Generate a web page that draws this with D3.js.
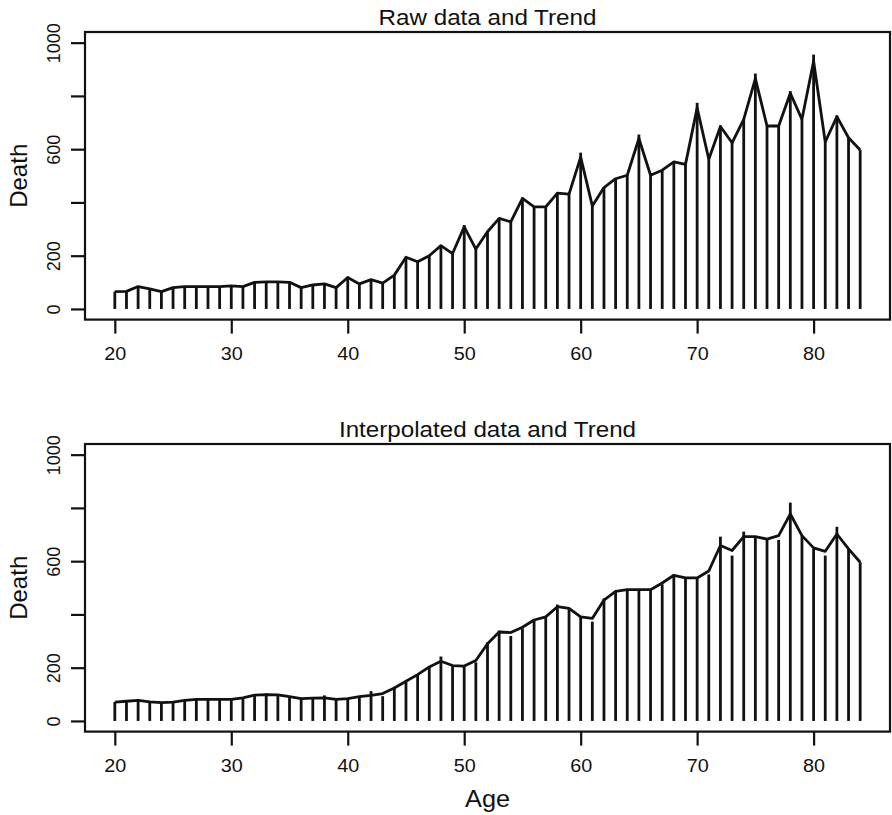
<!DOCTYPE html>
<html>
<head>
<meta charset="utf-8">
<script src="https://cdn.jsdelivr.net/npm/d3@7"></script>
<style>
  body { margin: 0; background: #fff; }
  text { font-family: "Liberation Sans", Arial, sans-serif; fill: #111; }
</style>
</head>
<body>
<div id="chart"></div>
<script>
// Data
const ages = [20,21,22,23,24,25,26,27,28,29,30,31,32,33,34,35,36,37,38,39,40,41,42,43,44,45,46,47,48,49,50,51,52,
              53,54,55,56,57,58,59,60,61,62,63,64,65,66,67,68,69,70,71,72,73,74,75,76,77,78,79,80,81,82,83,84];
const rawDeaths = [65,66,84,75,65,80,84,84,84,84,87,84,100,102,102,100,80,90,94,80,121,94,112,97,127,194,177,200,240,208,
                   315,225,290,340,327,418,383,383,437,431,587,387,456,489,502,655,502,521,552,543,774,562,689,624,712,
                   884,687,687,818,712,955,627,727,643,597];
const rawTrend = [65,66,84,75,65,80,84,84,84,84,87,84,100,102,102,100,80,90,94,80,118,94,110,97,127,194,177,200,238,208,
                  308,225,290,340,327,415,383,383,435,431,570,387,456,489,502,640,502,521,552,543,755,562,685,624,712,
                  865,687,687,810,712,930,627,722,643,597];
const interpDeaths = [71,71,81,75,68,68,75,81,81,81,81,87,99,103,99,91,84,87,96,81,84,91,112,93,128,149,174,203,242,206,
                      206,220,295,339,319,348,382,389,437,419,391,373,460,485,493,490,493,513,550,537,537,550,692,621,711,
                      692,683,680,820,696,646,621,729,646,596];
const interpTrend = [71,74,77,72,69,71,77,81,81,81,81,87,97,99,98,91,84,86,87,81,84,91,96,103,124,149,174,203,224,208,
                     206,227,290,334,332,352,379,391,429,423,391,385,454,487,493,493,493,518,547,537,537,563,659,640,692,
                     692,683,696,777,696,650,637,702,646,596];
const xTicks = [20,30,40,50,60,70,80];
const yTicks = [0,200,400,600,800,1000];
const yLabels = [0,200,600,1000];

const Width = 892, Height = 815;
const margin = { Left: 85, Right: 2 };
const panelHeight = 287.6;
const ink = "#111";
const stretch = "scale(1.1,1)";   // the picture's text is a bit wide

const svg = d3.select("#chart")
    .append("svg")
        .attr("width", Width)
        .attr("height", Height);

// x scale shared by both panels (R adds 4% on each side)
const xPad = (84 - 20) * 0.04;
const xScale = d3.scaleLinear()
    .domain([20 - xPad, 84 + xPad])
    .range([margin.Left, Width - margin.Right]);

function drawPanel(title, spikes, trend, top, xTitle) {
    const bottom = top + panelHeight;
    const yScale = d3.scaleLinear()
        .domain([-40, 1040])
        .range([bottom, top]);

    const g = svg.append("g");

    // spikes (type = "h")
    g.append("g")
        .attr("stroke", ink)
        .attr("stroke-width", 2.8)
        .selectAll("line")
        .data(ages)
        .join("line")
            .attr("x1", d => xScale(d))
            .attr("x2", d => xScale(d))
            .attr("y1", yScale(0))
            .attr("y2", (d, i) => yScale(spikes[i]));

    // trend line
    g.append("path")
        .datum(ages)
        .attr("fill", "none")
        .attr("stroke", ink)
        .attr("stroke-width", 2.8)
        .attr("stroke-linejoin", "round")
        .attr("d", d3.line()
            .x(d => xScale(d))
            .y((d, i) => yScale(trend[i])));

    // box
    g.append("rect")
        .attr("x", margin.Left)
        .attr("y", top)
        .attr("width", Width - margin.Right - margin.Left)
        .attr("height", panelHeight)
        .attr("fill", "none")
        .attr("stroke", ink)
        .attr("stroke-width", 2.2);

    // x axis
    const xAxis = g.append("g")
        .attr("transform", `translate(0, ${bottom})`)
        .call(d3.axisBottom(xScale).tickValues(xTicks).tickSize(14).tickPadding(14).tickSizeOuter(0));
    xAxis.select(".domain").remove();
    xAxis.selectAll("line").attr("stroke", ink).attr("stroke-width", 2.2);
    xAxis.selectAll("text")
        .attr("font-size", 18)
        .attr("fill", ink)
        .attr("transform", stretch);

    // y axis, labels turned like R does
    const yAxis = g.append("g")
        .attr("transform", `translate(${margin.Left}, 0)`)
        .call(d3.axisLeft(yScale).tickValues(yTicks).tickSize(14).tickSizeOuter(0)
            .tickFormat(d => yLabels.includes(d) ? d : ""));
    yAxis.select(".domain").remove();
    yAxis.selectAll("line").attr("stroke", ink).attr("stroke-width", 2.2);
    yAxis.selectAll("text")
        .attr("x", 0)
        .attr("dy", 0)
        .attr("font-size", 18)
        .attr("fill", ink)
        .attr("text-anchor", "middle")
        .attr("transform", "translate(-25, 0) rotate(-90)");

    // y title
    g.append("text")
        .attr("transform", `translate(27, ${(top + bottom) / 2}) rotate(-90)`)
        .attr("text-anchor", "middle")
        .attr("font-size", 24)
        .text("Death");

    // panel title
    g.append("text")
        .attr("transform", `translate(${(margin.Left + Width - margin.Right) / 2}, ${top - 7}) ${stretch}`)
        .attr("text-anchor", "middle")
        .attr("font-size", 22)
        .text(title);

    if (xTitle) {
        g.append("text")
            .attr("transform", `translate(${(margin.Left + Width - margin.Right) / 2}, ${bottom + 75}) ${stretch}`)
            .attr("text-anchor", "middle")
            .attr("font-size", 23)
            .text(xTitle);
    }
}

drawPanel("Raw data and Trend", rawDeaths, rawTrend, 32, null);
drawPanel("Interpolated data and Trend", interpDeaths, interpTrend, 444, "Age");
</script>
</body>
</html>
